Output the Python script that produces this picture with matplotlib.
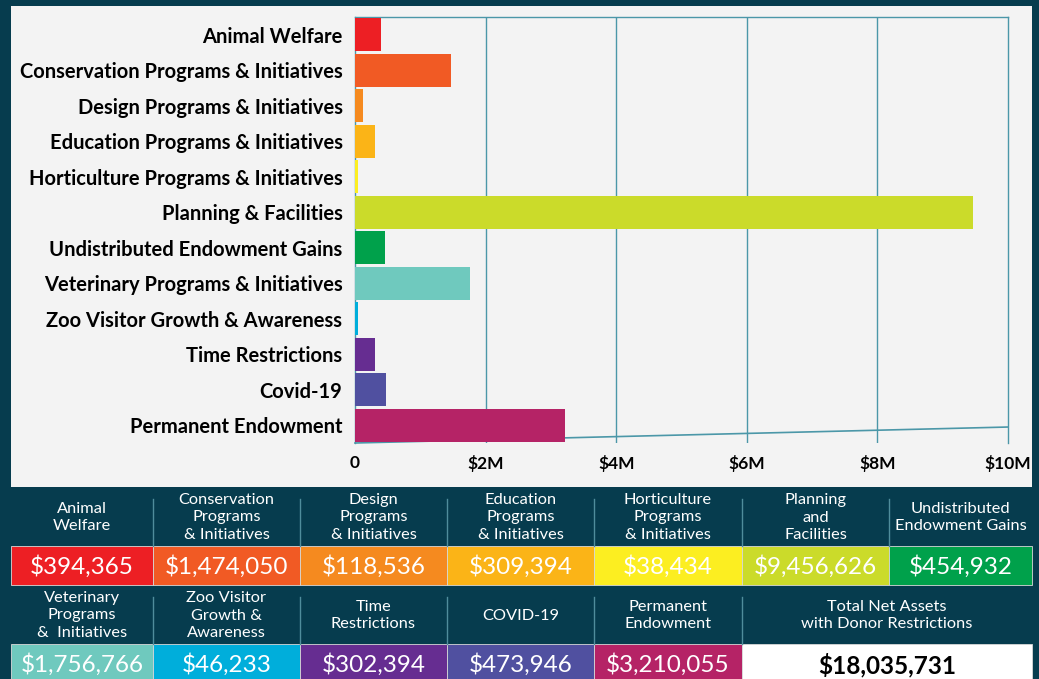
import matplotlib.pyplot as plt
from matplotlib.patches import Rectangle

categories = ["Animal Welfare", "Conservation Programs & Initiatives",
              "Design Programs & Initiatives", "Education Programs & Initiatives",
              "Horticulture Programs & Initiatives", "Planning & Facilities",
              "Undistributed Endowment Gains", "Veterinary Programs & Initiatives",
              "Zoo Visitor Growth & Awareness", "Time Restrictions", "Covid-19",
              "Permanent Endowment"]
amounts = [394365, 1474050, 118536, 309394, 38434, 9456626, 454932,
           1756766, 46233, 302394, 473946, 3210055]
colors = ["#ed1f24", "#f15a24", "#f58a1f", "#fbb417", "#fcee21", "#cbdb2a",
          "#00a14b", "#6fc9be", "#00aedb", "#662d91", "#5050a0", "#b52366"]
table_headers = ["Animal\nWelfare", "Conservation\nPrograms\n& Initiatives",
                 "Design\nPrograms\n& Initiatives", "Education\nPrograms\n& Initiatives",
                 "Horticulture\nPrograms\n& Initiatives", "Planning\nand\nFacilities",
                 "Undistributed\nEndowment Gains", "Veterinary\nPrograms\n&  Initiatives",
                 "Zoo Visitor\nGrowth &\nAwareness", "Time\nRestrictions", "COVID-19",
                 "Permanent\nEndowment"]
total_label = "Total Net Assets\nwith Donor Restrictions"
x_ticks = [0, 2e6, 4e6, 6e6, 8e6, 10e6]
x_tick_labels = ["0", "$2M", "$4M", "$6M", "$8M", "$10M"]

W, H = 1039, 679
DARK = "#063c4e"
GRID = "#4b97a8"
plt.rcParams['font.family'] = ['Lato', 'DejaVu Sans']

fig = plt.figure(figsize=(W / 100, H / 100), dpi=100, facecolor=DARK)

# background layer in pixel coordinates
bg = fig.add_axes([0, 0, 1, 1])
bg.set_xlim(0, W)
bg.set_ylim(H, 0)
bg.axis('off')
bg.add_patch(Rectangle((11, 6), 1021, 481, fc="#f3f3f3", ec="none"))

# bar chart
ax = fig.add_axes([355 / W, 1 - 443 / H, (1008 - 355) / W, (443 - 17) / H])
ax.patch.set_alpha(0.0)
ypos = list(range(len(categories)))
ax.barh(ypos, amounts, height=0.93, color=colors, zorder=3)
ax.set_ylim(len(categories) - 0.5, -0.5)
ax.set_xlim(0, 10e6)
ax.set_yticks(ypos)
ax.set_yticklabels(categories, fontsize=14.5, fontweight='bold')
ax.set_xticks(x_ticks)
ax.set_xticklabels(x_tick_labels, fontsize=12.5, fontweight='bold')
ax.tick_params(length=0, pad=9)
ax.tick_params(axis='y', pad=9)
for x in x_ticks[1:-1]:
    ax.axvline(x, color=GRID, lw=1, zorder=1)
for side in ['left', 'right', 'top']:
    ax.spines[side].set_color(GRID)
    ax.spines[side].set_linewidth(1)
ax.spines['bottom'].set_visible(False)
# slanted base line as in the original
ax.plot([0, 10e6], [11.5, 11.05], color=GRID, lw=1.2, clip_on=False, zorder=2)

# table
edges = [11, 153, 300, 447, 594, 742, 889, 1032]
rows = [(487, 546, 585), (585, 644, 679)]


def header_cell(x0, x1, y0, y1, text):
    bg.text((x0 + x1) / 2, (y0 + y1) / 2 + 1, text, color="white", fontsize=11.8,
            ha='center', va='center', linespacing=1.3)


def value_cell(x0, x1, y0, y1, color, text, tcolor="white", weight='normal'):
    bg.add_patch(Rectangle((x0, y0), x1 - x0, y1 - y0, fc=color, ec="#d8d8d8", lw=0.6))
    bg.text((x0 + x1) / 2, (y0 + y1) / 2 + 1, text, color=tcolor, fontsize=17.5,
            ha='center', va='center', fontweight=weight)


for i in range(7):
    x0, x1 = edges[i], edges[i + 1]
    hy0, vy0, vy1 = rows[0]
    header_cell(x0, x1, hy0, vy0, table_headers[i])
    value_cell(x0, x1, vy0, vy1, colors[i], f"${amounts[i]:,}")
    if i > 0:
        bg.plot([x0, x0], [hy0 + 12, vy0], color="#4f8d9c", lw=1)

for j in range(5):
    i = j + 7
    x0, x1 = edges[j], edges[j + 1]
    hy0, vy0, vy1 = rows[1]
    header_cell(x0, x1, hy0, vy0, table_headers[i])
    value_cell(x0, x1, vy0, vy1 + 5, colors[i], f"${amounts[i]:,}")
    bg.plot([x1, x1], [hy0 + 12, vy0], color="#4f8d9c", lw=1)

hy0, vy0, vy1 = rows[1]
header_cell(edges[5], edges[7], hy0, vy0, total_label)
value_cell(edges[5], edges[7], vy0, vy1 + 5, "white", f"${sum(amounts):,}",
           tcolor="black", weight='bold')
bg.set_ylim(H, 0)

fig.savefig("out.png", dpi=100, facecolor=DARK)
